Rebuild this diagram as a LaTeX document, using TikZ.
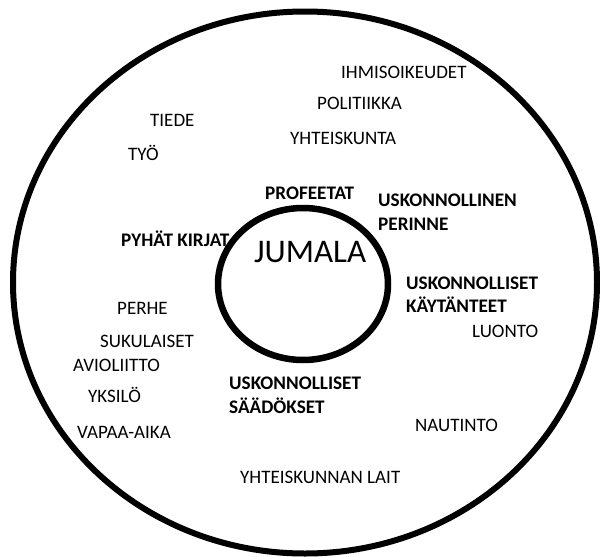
\documentclass[tikz,border=0pt]{standalone}
\usepackage{fontspec}
\setmainfont{Carlito}
\usetikzlibrary{shapes.geometric}
\tikzset{
  ring/.style={draw=black, ellipse, inner sep=0pt},
  item/.style={anchor=base west, inner sep=0pt, font=\fontsize{19}{23}\selectfont},
  bitem/.style={item, font=\fontsize{19.2}{23}\selectfont\bfseries},
}
\begin{document}
\begin{tikzpicture}[x=1pt,y=-1pt]
\useasboundingbox (0,0) rectangle (600,557);
\node[ring, line width=6pt, minimum width=584pt, minimum height=542pt] (outer) at (305,282.5) {};
\node[ring, line width=6.5pt, minimum width=170pt, minimum height=152pt] (inner) at (303,284) {};
\node[anchor=base west, inner sep=0pt, font=\fontsize{33}{36}\selectfont] (jumala) at (254,262.5) {JUMALA};

\node[item] (ihmis) at (341,78.3) {IHMISOIKEUDET};
\node[item] (politiikka) at (317,109.3) {POLITIIKKA};
\node[item] (tiede) at (150,126.3) {TIEDE};
\node[item] (yhteiskunta) at (290,144.3) {YHTEISKUNTA};
\node[item] (tyo) at (128,160.3) {TYÖ};
\node[bitem] (profeetat) at (265,199.3) {PROFEETAT};
\node[bitem] (perinne1) at (378,206.3) {USKONNOLLINEN};
\node[bitem] (perinne2) at (378,230.3) {PERINNE};
\node[bitem] (kirjat) at (121,246.3) {PYHÄT KIRJAT};
\node[bitem] (kayt1) at (406,289.3) {USKONNOLLISET};
\node[bitem] (kayt2) at (406,312.3) {KÄYTÄNTEET};
\node[item] (perhe) at (117,314.3) {PERHE};
\node[item] (luonto) at (472,337.3) {LUONTO};
\node[item] (sukulaiset) at (100,347.3) {SUKULAISET};
\node[item] (avioliitto) at (73,371.3) {AVIOLIITTO};
\node[bitem] (saad1) at (229,389.3) {USKONNOLLISET};
\node[bitem] (saad2) at (229,413.3) {SÄÄDÖKSET};
\node[item] (yksilo) at (88,402.3) {YKSILÖ};
\node[item] (nautinto) at (415,431.3) {NAUTINTO};
\node[item] (vapaa) at (77,438.3) {VAPAA-AIKA};
\node[item] (lait) at (240,483.3) {YHTEISKUNNAN LAIT};
\end{tikzpicture}
\end{document}
